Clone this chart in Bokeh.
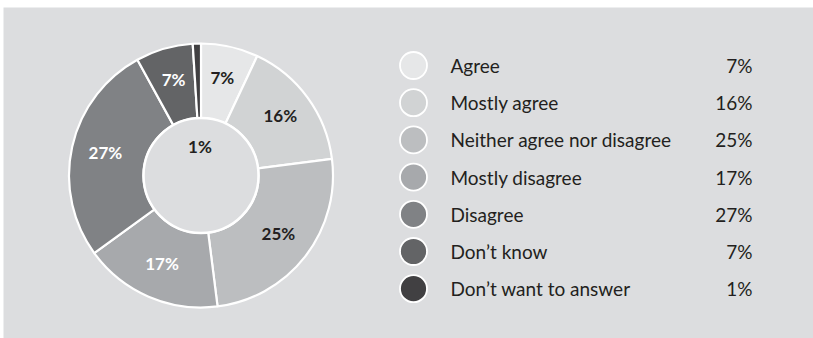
import math
from bokeh.plotting import figure
from bokeh.models import Range1d, ColumnDataSource
from bokeh.core.properties import value
from bokeh.embed import file_html
from bokeh.resources import INLINE

categories = ["Agree", "Mostly agree", "Neither agree nor disagree",
              "Mostly disagree", "Disagree", "Don\u2019t know", "Don\u2019t want to answer"]
values = [7, 16, 25, 17, 27, 7, 1]
value_labels = ["7%", "16%", "25%", "17%", "27%", "7%", "1%"]
colors = ["#e6e7e8", "#d1d3d4", "#bcbec0", "#a7a9ac", "#808285", "#636466", "#414042"]
label_colors = ["#231f20", "#231f20", "#231f20", "#ffffff", "#ffffff", "#ffffff", "#231f20"]

BG = "#dcdddf"
W, H = 813, 338
TOP, LEFT = 7, 3

def Y(py):
    return H - py

p = figure(width=W, height=H, output_backend="svg", toolbar_location=None,
           x_range=Range1d(LEFT, W), y_range=Range1d(0, H - TOP),
           min_border_left=LEFT, min_border_top=TOP, min_border_right=0, min_border_bottom=0)
p.axis.visible = False
p.grid.visible = False
p.outline_line_color = None
p.background_fill_color = BG
p.border_fill_color = "white"

cx, cy = 200.5, Y(175)
r_in, r_out = 57.5, 132

total = float(sum(values))
starts, ends, mids = [], [], []
cum = 0.0
for v in values:
    a0 = math.pi / 2 - 2 * math.pi * cum / total
    cum += v
    a1 = math.pi / 2 - 2 * math.pi * cum / total
    starts.append(a0)
    ends.append(a1)
    mids.append((a0 + a1) / 2)

src = ColumnDataSource(dict(start=starts, end=ends, color=colors))
p.annular_wedge(x=cx, y=cy, inner_radius=r_in, outer_radius=r_out,
                inner_radius_units="screen", outer_radius_units="screen",
                start_angle="start", end_angle="end", direction="clock",
                fill_color="color", line_color="white", line_width=2.2, source=src)
p.scatter(x=[cx], y=[cy], size=2 * r_in, marker="circle", fill_color=BG,
          line_color="white", line_width=2.5)

# pie labels
lx, ly = [], []
for i, m in enumerate(mids):
    if i == len(mids) - 1:
        lx.append(cx - 1)
        ly.append(Y(145.5))
    else:
        lx.append(cx + 98 * math.cos(m))
        ly.append(cy + 98 * math.sin(m) + 2)
p.text(x=lx, y=ly, text=value_labels, text_color=label_colors,
       text_font=value("Lato"), text_font_style="bold", text_font_size="17px",
       text_align="center", text_baseline="middle")

# legend
row_y = [Y(65 + 37.2 * i) for i in range(len(categories))]
p.scatter(x=[413] * len(categories), y=row_y, size=27, marker="circle",
          fill_color=colors, line_color="white", line_width=1.8)
p.text(x=[450] * len(categories), y=row_y, text=categories, text_color="#231f20",
       text_font=value("Lato"), text_font_size="19px",
       text_align="left", text_baseline="middle")
p.text(x=[752] * len(categories), y=row_y, text=value_labels, text_color="#231f20",
       text_font=value("Lato"), text_font_size="19px",
       text_align="right", text_baseline="middle")

open("out.html", "w").write(file_html(p, INLINE))
